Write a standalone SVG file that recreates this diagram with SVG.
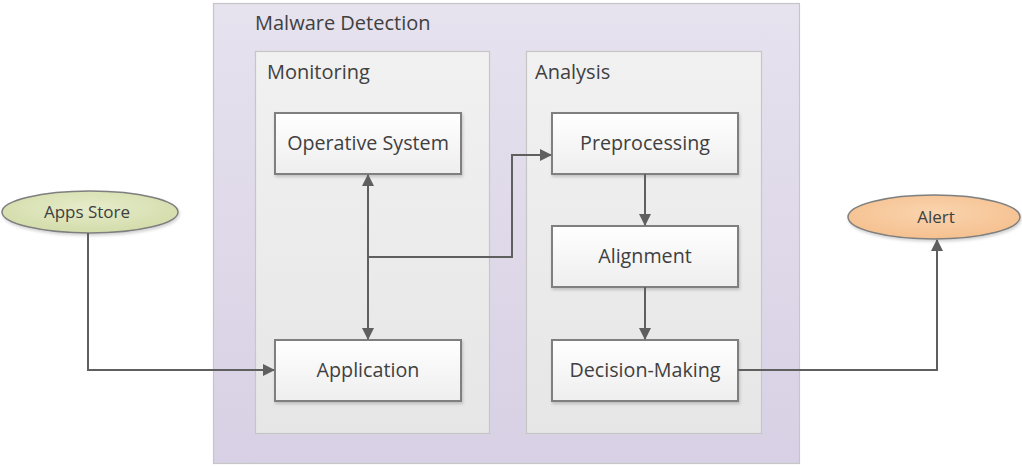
<svg xmlns="http://www.w3.org/2000/svg" width="1022" height="467" viewBox="0 0 1022 467">
<defs>
<linearGradient id="gOuter" x1="0" y1="0" x2="0" y2="1"><stop offset="0" stop-color="#e6e2ee"/><stop offset="1" stop-color="#d8d0e4"/></linearGradient>
<linearGradient id="gInner" x1="0" y1="0" x2="0" y2="1"><stop offset="0" stop-color="#f1f1f1"/><stop offset="1" stop-color="#e6e6e6"/></linearGradient>
<linearGradient id="gNode" x1="0" y1="0" x2="0" y2="1"><stop offset="0" stop-color="#ffffff"/><stop offset="1" stop-color="#eeeeee"/></linearGradient>
<radialGradient id="gGreen" cx="0.5" cy="0.4" r="0.6"><stop offset="0" stop-color="#e6ecca"/><stop offset="1" stop-color="#d3dcaa"/></radialGradient>
<radialGradient id="gOrange" cx="0.5" cy="0.4" r="0.6"><stop offset="0" stop-color="#fad4ae"/><stop offset="1" stop-color="#f5c08f"/></radialGradient>
<filter id="sh" x="-10%" y="-10%" width="120%" height="130%"><feDropShadow dx="1" dy="2" stdDeviation="1.5" flood-color="#000" flood-opacity="0.18"/></filter>
<marker id="arr" viewBox="0 0 12 12" refX="11" refY="6" markerWidth="12" markerHeight="12" markerUnits="userSpaceOnUse" orient="auto-start-reverse"><path d="M0,0 L12,6 L0,12 Z" fill="#5f5f5f"/></marker>
</defs>
<style>
.cont{stroke:#c6c6c6;stroke-width:1.2}
.node{fill:url(#gNode);stroke:#7f7f7f;stroke-width:2;filter:url(#sh)}
.ell{stroke:#7f7f7f;stroke-width:1.5;filter:url(#sh)}
.title{font-family:"Open Sans","Liberation Sans",sans-serif;font-size:20px;fill:#404040}
.lbl{font-family:"Open Sans","Liberation Sans",sans-serif;font-size:19.7px;fill:#404040;text-anchor:middle}
.small{font-family:"Open Sans","Liberation Sans",sans-serif;font-size:17px;fill:#404040;text-anchor:middle}
.con{fill:none;stroke:#5f5f5f;stroke-width:2}
</style>
<g id="malware-detection">
<rect class="cont" x="213.5" y="3.5" width="586" height="460" fill="url(#gOuter)"/>
<text class="title" x="255" y="30">Malware Detection</text>
</g>
<g id="monitoring">
<rect class="cont" x="255.5" y="51.5" width="234" height="382" fill="url(#gInner)"/>
<text class="title" x="267" y="79">Monitoring</text>
</g>
<g id="analysis">
<rect class="cont" x="526.5" y="51.5" width="235" height="382" fill="url(#gInner)"/>
<text class="title" x="535" y="79">Analysis</text>
</g>
<g id="operative-system">
<rect class="node" x="275" y="113" width="186" height="61"/>
<text class="lbl" x="368" y="150">Operative System</text>
</g>
<g id="application">
<rect class="node" x="275" y="340" width="186" height="61"/>
<text class="lbl" x="368" y="377">Application</text>
</g>
<g id="preprocessing">
<rect class="node" x="552" y="113" width="186" height="61"/>
<text class="lbl" x="645" y="150">Preprocessing</text>
</g>
<g id="alignment">
<rect class="node" x="552" y="226" width="186" height="61"/>
<text class="lbl" x="645" y="263">Alignment</text>
</g>
<g id="decision-making">
<rect class="node" x="552" y="340" width="186" height="61"/>
<text class="lbl" x="645" y="377">Decision-Making</text>
</g>
<g id="apps-store">
<ellipse class="ell" cx="90" cy="212" rx="88" ry="21" fill="url(#gGreen)"/>
<text class="small" x="87" y="218">Apps Store</text>
</g>
<g id="alert">
<ellipse class="ell" cx="934" cy="217" rx="86" ry="22" fill="url(#gOrange)"/>
<text class="small" x="936" y="223">Alert</text>
</g>
<g id="connectors">
<path class="con" d="M88,233 V370 H274" marker-end="url(#arr)"/>
<path class="con" d="M368,175 V339" marker-start="url(#arr)" marker-end="url(#arr)"/>
<path class="con" d="M368,257 H512 V155 H551" marker-end="url(#arr)"/>
<path class="con" d="M645,174 V225" marker-end="url(#arr)"/>
<path class="con" d="M645,287 V339" marker-end="url(#arr)"/>
<path class="con" d="M738,370 H937 V240" marker-end="url(#arr)"/>
</g>
</svg>
